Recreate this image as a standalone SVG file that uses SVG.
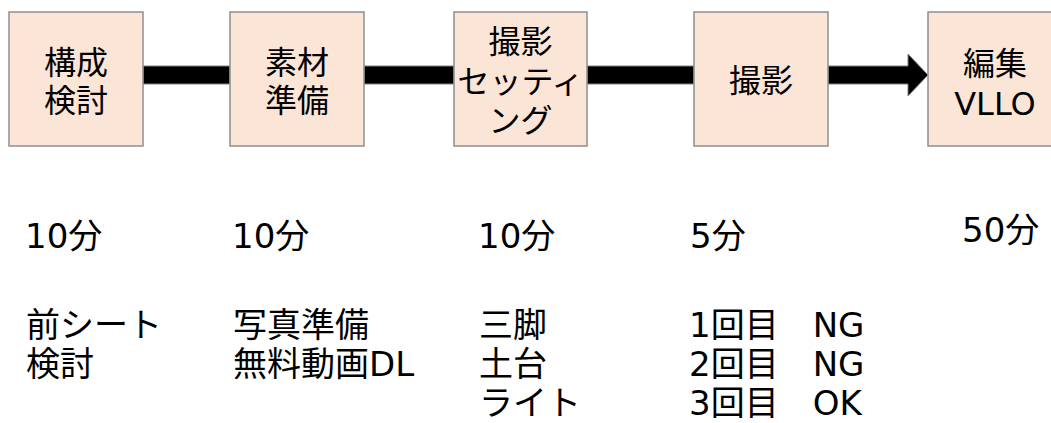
<svg xmlns="http://www.w3.org/2000/svg" width="1051" height="423" viewBox="0 0 1051 423">
<style>
.box{fill:#FBE5D6;stroke:#8f8f8f;stroke-width:1.5}
.bar{fill:#000;stroke:#7f7f7f;stroke-width:1}
text{font-family:"DejaVu Sans","Noto Sans CJK JP",sans-serif;fill:#000}
.bt{font-size:32px;text-anchor:middle}
.t{font-size:34px}
</style>
<rect width="1051" height="423" fill="#fff"/>
<g id="connectors">
<rect class="bar" x="143" y="66" width="87" height="18"/>
<rect class="bar" x="364" y="66" width="90" height="18"/>
<rect class="bar" x="587" y="66" width="107" height="18"/>
<path class="bar" d="M828,66 H908 V54 L928,75 L908,96 V84 H828 Z"/>
</g>
<g id="node1">
<rect class="box" x="9" y="12" width="134" height="134"/>
<text class="bt" x="76" y="74">構成</text>
<text class="bt" x="76" y="112">検討</text>
</g>
<g id="node2">
<rect class="box" x="230" y="12" width="134" height="134"/>
<text class="bt" x="297" y="74">素材</text>
<text class="bt" x="297" y="112">準備</text>
</g>
<g id="node3">
<rect class="box" x="454" y="12" width="133" height="134"/>
<text class="bt" x="520.5" y="53">撮影</text>
<text class="bt" x="520.5" y="93">セッティ</text>
<text class="bt" x="520.5" y="132">ング</text>
</g>
<g id="node4">
<rect class="box" x="694" y="12" width="134" height="134"/>
<text class="bt" x="761" y="92">撮影</text>
</g>
<g id="node5">
<rect class="box" x="928" y="12" width="134" height="134"/>
<text class="bt" x="995" y="75">編集</text>
<text class="bt" x="995" y="115">VLLO</text>
</g>
<g id="times">
<text class="t" x="25" y="248">10分</text>
<text class="t" x="232" y="248">10分</text>
<text class="t" x="478" y="248">10分</text>
<text class="t" x="690" y="248">5分</text>
<text class="t" x="962" y="242">50分</text>
</g>
<g id="notes">
<text class="t" x="26" y="337">前シート</text>
<text class="t" x="26" y="376">検討</text>
<text class="t" x="233" y="337">写真準備</text>
<text class="t" x="233" y="376">無料動画DL</text>
<text class="t" x="479" y="337">三脚</text>
<text class="t" x="479" y="376">土台</text>
<text class="t" x="479" y="415">ライト</text>
<text class="t" x="689" y="337">1回目　NG</text>
<text class="t" x="689" y="376">2回目　NG</text>
<text class="t" x="689" y="415">3回目　OK</text>
</g>
</svg>
